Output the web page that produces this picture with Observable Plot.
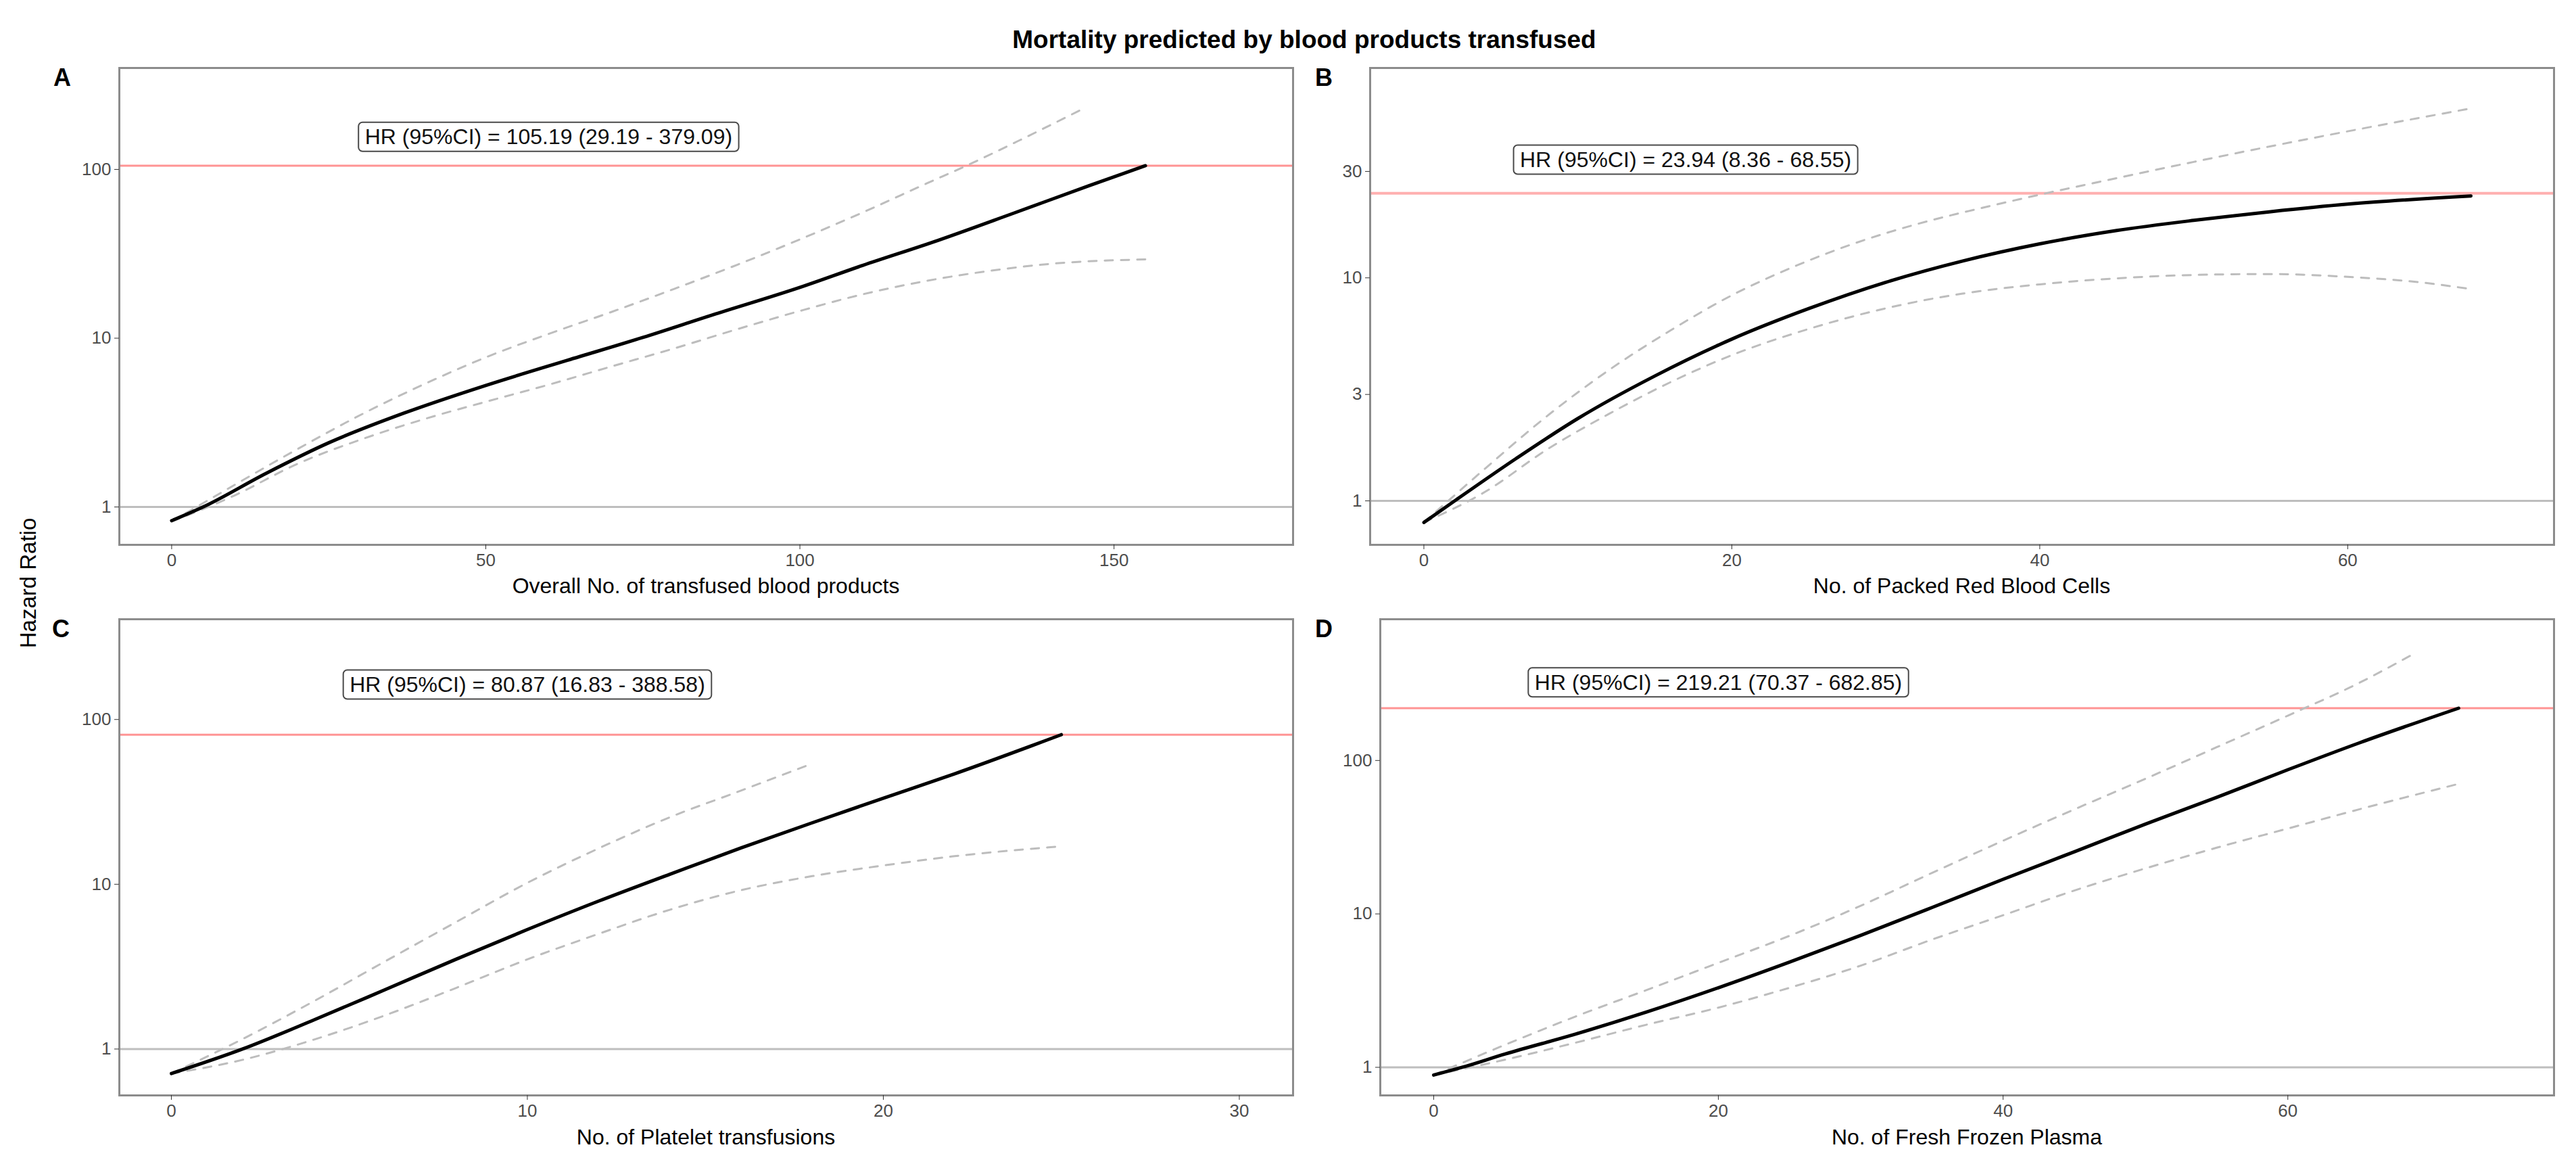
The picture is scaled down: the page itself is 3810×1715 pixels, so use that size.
<!DOCTYPE html>
<html>
<head>
<meta charset="utf-8">
<script src="https://cdn.jsdelivr.net/npm/d3@7"></script>
<script src="https://cdn.jsdelivr.net/npm/@observablehq/plot@0.6"></script>
<style>
  html, body { margin: 0; padding: 0; background: #ffffff; overflow: hidden; }
  #root { position: relative; width: 3810px; height: 1715px; background: #ffffff; }
  .panel { position: absolute; }
  #overlay { position: absolute; left: 0; top: 0; pointer-events: none; }
</style>
</head>
<body>
<div id="root"></div>
<script>
// ---------------- DATA ----------------
const chartTitle = "Mortality predicted by blood products transfused";
const yTitle = "Hazard Ratio";

// Panel A – overall blood products
const xTitleA = "Overall No. of transfused blood products";
const labelA = "HR (95%CI) = 105.19 (29.19 - 379.09)";
const hrA = 105.19;
const xTicksA = [0, 50, 100, 150];
const yTicksA = [1, 10, 100];
const xMainA = [0, 5, 15, 25, 37, 50, 63, 75, 86, 100, 110, 122, 134, 146, 155];
const hrMainA = [0.83, 1.0, 1.58, 2.4, 3.6, 5.25, 7.4, 10.1, 13.7, 20, 27, 38, 55, 80, 105.19];
const xUpA = [0, 10, 20, 30, 40, 50, 60, 70, 80, 90, 100, 110, 120, 127.4, 135, 145];
const upA = [0.82, 1.35, 2.2, 3.5, 5.3, 7.7, 10.6, 14.3, 19.6, 27.2, 38.5, 55.6, 82, 109, 149, 228];
const xLoA = [0, 10, 20, 30, 40, 50, 60, 70, 80, 90, 100, 110, 120, 130, 140, 155];
const loA = [0.82, 1.17, 1.8, 2.5, 3.3, 4.2, 5.3, 6.8, 8.7, 11.3, 14.5, 18.2, 21.8, 25, 27.6, 29.3];

// Panel B – packed red blood cells
const xTitleB = "No. of Packed Red Blood Cells";
const labelB = "HR (95%CI) = 23.94 (8.36 - 68.55)";
const hrB = 23.94;
const xTicksB = [0, 20, 40, 60];
const yTicksB = [1, 3, 10, 30];
const xMainB = [0, 2, 6, 10, 15, 20, 25, 30, 35, 40, 45, 50, 55, 60, 68];
const hrMainB = [0.8, 1.0, 1.55, 2.34, 3.63, 5.31, 7.28, 9.55, 11.9, 14.2, 16.3, 18.1, 19.8, 21.4, 23.3];
const xUpB = [0, 4, 8, 12, 16, 20, 24, 28, 32, 36, 40, 45, 50, 55, 60, 68];
const upB = [0.8, 1.4, 2.4, 3.85, 5.8, 8.35, 11.2, 14.3, 17.4, 20.4, 23.6, 28, 33.1, 38.9, 45.4, 57.5];
const xLoB = [0, 4, 8, 12, 16, 20, 25, 30, 35, 40, 45, 50, 55, 60, 65, 68];
const loB = [0.8, 1.1, 1.7, 2.45, 3.4, 4.5, 5.9, 7.3, 8.5, 9.35, 9.95, 10.3, 10.4, 10.1, 9.5, 8.9];

// Panel C – platelet transfusions
const xTitleC = "No. of Platelet transfusions";
const labelC = "HR (95%CI) = 80.87 (16.83 - 388.58)";
const hrC = 80.87;
const xTicksC = [0, 10, 20, 30];
const yTicksC = [1, 10, 100];
const xMainC = [0, 2, 4, 6, 8, 10, 12, 14, 16, 18, 20, 22, 25];
const hrMainC = [0.71, 1.0, 1.5, 2.29, 3.51, 5.31, 7.9, 11.5, 16.6, 23.6, 33.3, 46.8, 80.87];
const xUpC = [0, 2, 4, 6, 8, 10, 12, 14, 16, 18];
const upC = [0.71, 1.15, 1.95, 3.4, 5.9, 10.2, 16.5, 25.5, 37, 54];
const xLoC = [0, 2, 4, 6, 8, 10, 12, 14, 16, 18, 20, 22, 25];
const loC = [0.71, 0.86, 1.14, 1.6, 2.35, 3.5, 5.0, 7.0, 9.2, 11.2, 13.0, 14.8, 17.0];

// Panel D – fresh frozen plasma
const xTitleD = "No. of Fresh Frozen Plasma";
const labelD = "HR (95%CI) = 219.21 (70.37 - 682.85)";
const hrD = 219.21;
const xTicksD = [0, 20, 40, 60];
const yTicksD = [1, 10, 100];
const xMainD = [0, 2, 5, 10, 15, 20, 25, 30, 35, 40, 45, 50, 55, 60, 65, 72];
const hrMainD = [0.89, 1.0, 1.22, 1.65, 2.3, 3.3, 4.85, 7.25, 11, 16.8, 25.4, 38.5, 57.5, 87, 130, 219.21];
const xUpD = [0, 5, 10, 15, 20, 25, 30, 35, 40, 45, 50, 55, 60, 65, 69];
const upD = [0.89, 1.4, 2.15, 3.2, 4.8, 7.2, 11.3, 18.5, 30, 48, 76, 122, 196, 320, 505];
const xLoD = [0, 5, 10, 15, 20, 25, 30, 35, 40, 45, 50, 55, 60, 65, 72];
const loD = [0.89, 1.12, 1.45, 1.9, 2.45, 3.3, 4.6, 6.8, 9.8, 14.2, 19.8, 27, 36, 48, 70.4];

// ---------------- LAYOUT / STYLE ----------------
const FONT = "'Liberation Sans', Arial, Helvetica, sans-serif";
const root = document.getElementById("root");

const panels = [
  { tag: "A", fx1: 176, fx2: 1912, fy1: 100, fy2: 805, xDomain: [-8.33, 178.5], yDomain: [0.5966, 399],
    xTicks: xTicksA, yTicks: yTicksA, xMain: xMainA, main: hrMainA, xUp: xUpA, up: upA, xLo: xLoA, lo: loA,
    hr: hrA, label: labelA, labelX: 60, labelY: 155, red: "#FF9494", redWidth: 3 },
  { tag: "B", fx1: 2026, fx2: 3777, fy1: 100, fy2: 805, xDomain: [-3.49, 73.4], yDomain: [0.635, 87.3],
    xTicks: xTicksB, yTicks: yTicksB, xMain: xMainB, main: hrMainB, xUp: xUpB, up: upB, xLo: xLoB, lo: loB,
    hr: hrB, label: labelB, labelX: 17, labelY: 33.7, red: "#FFB0B0", redWidth: 4 },
  { tag: "C", fx1: 176, fx2: 1912, fy1: 915, fy2: 1619, xDomain: [-1.462, 31.51], yDomain: [0.523, 406],
    xTicks: xTicksC, yTicks: yTicksC, xMain: xMainC, main: hrMainC, xUp: xUpC, up: upC, xLo: xLoC, lo: loC,
    hr: hrC, label: labelC, labelX: 10, labelY: 162, red: "#FF9494", redWidth: 3 },
  { tag: "D", fx1: 2041, fx2: 3777, fy1: 915, fy2: 1619, xDomain: [-3.75, 78.7], yDomain: [0.656, 833],
    xTicks: xTicksD, yTicks: yTicksD, xMain: xMainD, main: hrMainD, xUp: xUpD, up: upD, xLo: xLoD, lo: loD,
    hr: hrD, label: labelD, labelX: 20, labelY: 321, red: "#FF9494", redWidth: 3 }
];

const rows = (xs, ys) => xs.map((x, i) => ({ x, y: ys[i] }));

function addLabelBox(svg, label) {
  const texts = Array.from(svg.querySelectorAll("text")).filter(t => t.textContent.trim() === label);
  texts.forEach(t => {
    let bb;
    try { bb = t.getBBox(); } catch (e) { return; }
    if (!bb || !bb.width) return;
    const r = document.createElementNS("http://www.w3.org/2000/svg", "rect");
    r.setAttribute("x", bb.x - 9.5);
    r.setAttribute("y", bb.y - 3.5);
    r.setAttribute("width", bb.width + 19);
    r.setAttribute("height", bb.height + 7);
    r.setAttribute("rx", 6);
    r.setAttribute("ry", 6);
    r.setAttribute("fill", "#ffffff");
    r.setAttribute("stroke", "#4a4a4a");
    r.setAttribute("stroke-width", 2);
    const tr = t.getAttribute("transform");
    if (tr) r.setAttribute("transform", tr);
    t.parentNode.insertBefore(r, t);
  });
}

function makePanel(cfg) {
  const mL = 90, mR = 12, mT = 10, mB = 52;
  const W = cfg.fx2 - cfg.fx1 + mL + mR;
  const H = cfg.fy2 - cfg.fy1 + mT + mB;
  const ciStyle = { x: "x", y: "y", stroke: "#BDBDBD", strokeWidth: 3, strokeDasharray: "12,12", curve: "monotone-x" };
  const svg = Plot.plot({
    width: W, height: H,
    marginLeft: mL, marginRight: mR, marginTop: mT, marginBottom: mB,
    style: { fontFamily: FONT, fontSize: "26px", color: "#4d4d4d", background: "transparent", overflow: "visible" },
    x: { domain: cfg.xDomain },
    y: { type: "log", domain: cfg.yDomain },
    marks: [
      Plot.ruleY([1], { stroke: "#BEBEBE", strokeWidth: 3 }),
      Plot.ruleY([cfg.hr], { stroke: cfg.red, strokeWidth: cfg.redWidth }),
      Plot.line(rows(cfg.xUp, cfg.up), ciStyle),
      Plot.line(rows(cfg.xLo, cfg.lo), ciStyle),
      Plot.line(rows(cfg.xMain, cfg.main), { x: "x", y: "y", stroke: "#000000", strokeWidth: 5, curve: "monotone-x" }),
      Plot.frame({ stroke: "#8c8c8c", strokeWidth: 3 }),
      Plot.axisX({ ticks: cfg.xTicks, tickSize: 7, tickPadding: 6, label: null, stroke: "#333333", fontSize: 26 }),
      Plot.axisY({ ticks: cfg.yTicks, tickSize: 7, tickPadding: 5, tickFormat: d => String(d), label: null, stroke: "#333333", fontSize: 26 }),
      Plot.text([{ x: cfg.labelX, y: cfg.labelY, t: cfg.label }],
        { x: "x", y: "y", text: "t", fontSize: 32, fill: "#111111" })
    ]
  });
  const holder = document.createElement("div");
  holder.className = "panel";
  holder.style.left = (cfg.fx1 - mL) + "px";
  holder.style.top = (cfg.fy1 - mT) + "px";
  holder.appendChild(svg);
  root.appendChild(holder);
  addLabelBox(svg, cfg.label);
}

panels.forEach(makePanel);

// ---------------- TITLES / TAGS ----------------
const ov = d3.select(root).append("svg")
  .attr("id", "overlay").attr("width", 3810).attr("height", 1715)
  .style("font-family", FONT);

ov.append("text").attr("x", 1929).attr("y", 71).attr("text-anchor", "middle")
  .attr("font-size", 37).attr("font-weight", "bold").attr("fill", "#000").text(chartTitle);

const tags = [["A", 79, 127], ["B", 1945, 127], ["C", 77, 942], ["D", 1945, 942]];
tags.forEach(([s, x, y]) => ov.append("text").attr("x", x).attr("y", y)
  .attr("font-size", 36).attr("font-weight", "bold").attr("fill", "#000").text(s));

const xTitles = [[xTitleA, 1044, 877], [xTitleB, 2901.5, 877], [xTitleC, 1044, 1692], [xTitleD, 2909, 1692]];
xTitles.forEach(([s, x, y]) => ov.append("text").attr("x", x).attr("y", y).attr("text-anchor", "middle")
  .attr("font-size", 32).attr("fill", "#000").text(s));

ov.append("text").attr("transform", "translate(53,862) rotate(-90)").attr("text-anchor", "middle")
  .attr("font-size", 33).attr("fill", "#000").text(yTitle);
</script>
</body>
</html>
